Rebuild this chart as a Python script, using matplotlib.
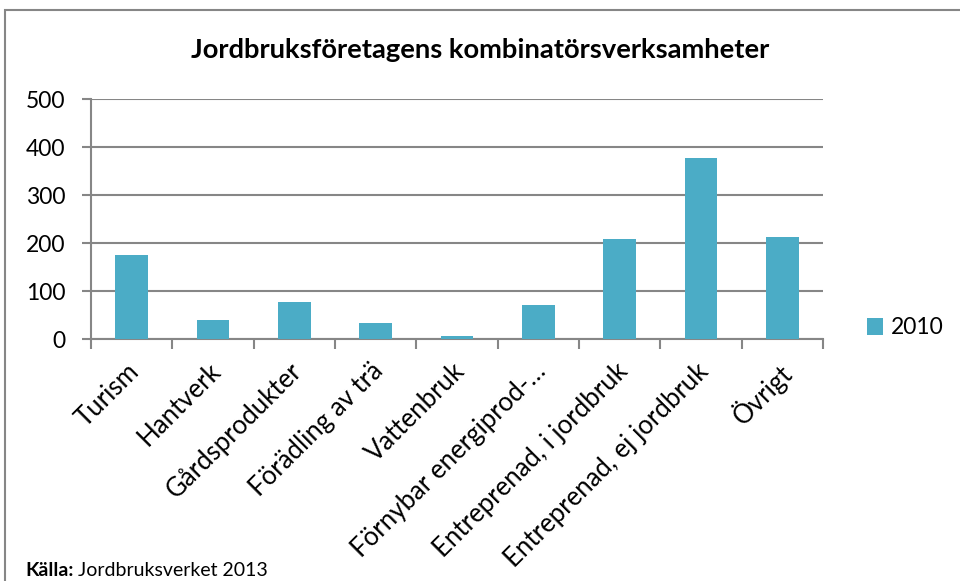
import numpy as np
import matplotlib
matplotlib.use('Agg')
import matplotlib.pyplot as plt
from matplotlib.patches import Rectangle

kategorier = ['Turism', 'Hantverk', 'Gårdsprodukter', 'Förädling av trä', 'Vattenbruk',
              'Förnybar energiprod-…', 'Entreprenad, i jordbruk', 'Entreprenad, ej jordbruk', 'Övrigt']
varden_2010 = [175, 40, 77, 33, 6, 71, 208, 377, 212]
y_ticks = [0, 100, 200, 300, 400, 500]

farg = '#4BACC6'
gra = '#868686'
plt.rcParams['font.family'] = ['Lato', 'DejaVu Sans']

fig = plt.figure(figsize=(9.6, 5.81), dpi=100)
# ram runt diagrammet
fig.patches.append(Rectangle((5 / 960, -0.05), 1.0, 1 - 10 / 581 + 0.05, transform=fig.transFigure,
                             fill=False, edgecolor=gra, linewidth=1.5))

ax = fig.add_axes([91 / 960, 1 - 339 / 581, (823 - 91) / 960, (339 - 99) / 581])
x = np.arange(len(kategorier))
ax.bar(x, varden_2010, width=0.4, color=farg, zorder=3, label='2010')

ax.set_xlim(-0.5, len(kategorier) - 0.5)
ax.set_ylim(0, 500)
ax.set_yticks(y_ticks)
ax.set_yticklabels([str(v) for v in y_ticks], fontsize=16.5)
ax.yaxis.grid(True, color=gra, linewidth=1.5, zorder=0)
ax.set_axisbelow(True)

# x-ticks mellan kategorierna
ax.set_xticks(np.arange(len(kategorier) + 1) - 0.5)
ax.set_xticklabels([])
ax.tick_params(axis='x', length=7, width=1.5, color=gra, direction='out')
ax.tick_params(axis='y', length=6.5, width=1.5, color=gra, direction='out', pad=12)
for i, namn in enumerate(kategorier):
    ax.annotate(namn, xy=(i - 0.06, 0), xycoords=('data', 'axes fraction'),
                xytext=(0, -14), textcoords='offset points',
                rotation=45, ha='right', va='top', rotation_mode='anchor',
                fontsize=18.5)

for s in ['top', 'right']:
    ax.spines[s].set_visible(False)
for s in ['left', 'bottom']:
    ax.spines[s].set_color(gra)
    ax.spines[s].set_linewidth(1.5)

fig.text(0.5, 1 - 50 / 581, 'Jordbruksföretagens kombinatörsverksamheter',
         ha='center', va='center', fontsize=19.7, fontweight='bold')

fig.legend(loc='center left', bbox_to_anchor=(858 / 960, 1 - 328 / 581), frameon=False,
           prop={'size': 16.5}, handlelength=0.7, handleheight=0.7,
           handletextpad=0.35, borderaxespad=0)

# källa: fet etikett + vanlig text
t1 = fig.text(25 / 960, 1 - 571 / 581, 'Källa:', fontsize=14, fontweight='bold', va='center')
fig.canvas.draw()
bb = t1.get_window_extent()
fig.text((bb.x1 + 5) / 960, 1 - 571 / 581, 'Jordbruksverket 2013', fontsize=14, va='center')

fig.savefig('out.png', dpi=100)
